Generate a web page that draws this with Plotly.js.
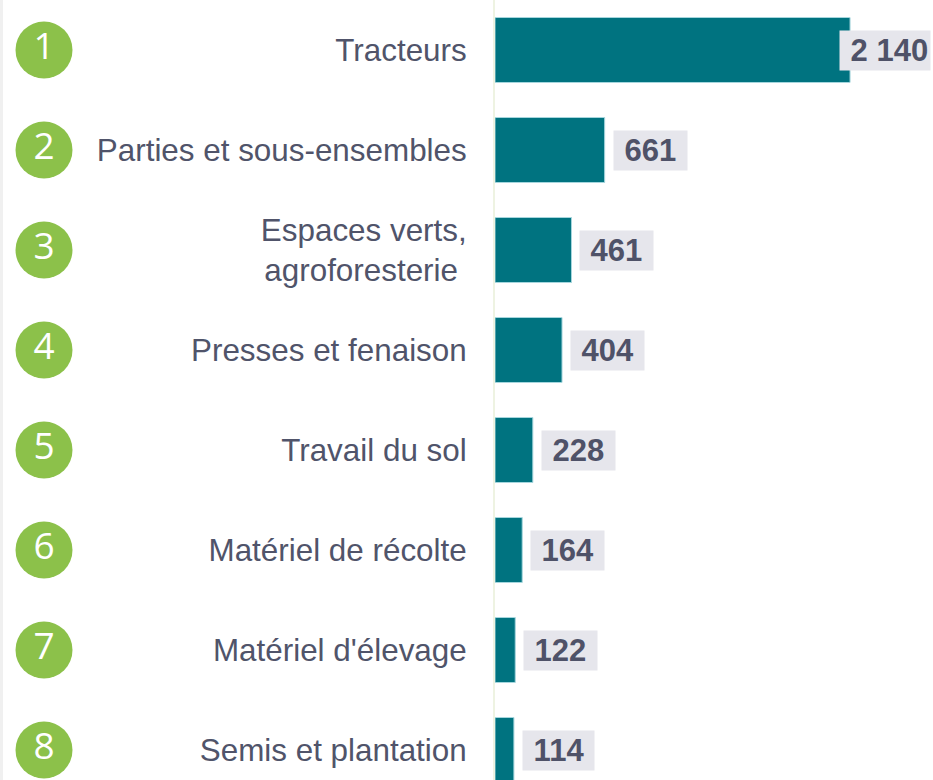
<!DOCTYPE html>
<html>
<head>
<meta charset="utf-8">
<script src="https://cdn.plot.ly/plotly-3.0.1.min.js"></script>
<style>
  html, body { margin: 0; padding: 0; background: #ffffff; }
  #chart { width: 933px; height: 780px; }
</style>
</head>
<body>
<div id="chart"></div>
<script>
const categories = [
    'Tracteurs',
    'Parties et sous-ensembles',
    'Espaces verts,<br>agroforesterie ',
    'Presses et fenaison',
    'Travail du sol',
    'Matériel de récolte',
    "Matériel d'élevage",
    'Semis et plantation'
];
const ranks = ['1', '2', '3', '4', '5', '6', '7', '8'];
const values = [2140, 661, 461, 404, 228, 164, 122, 114];

const fmt = (v) => String(v).replace(/\B(?=(\d{3})+(?!\d))/g, ' ');

const build_chart = () => {
    const chart = document.querySelector('#chart');

    const bars = {
        type: 'bar',
        orientation: 'h',
        x: values,
        y: categories,
        xaxis: 'x',
        yaxis: 'y',
        width: 0.65,
        marker: { color: '#007380', line: { color: '#a6d6dd', width: 1 } },
        hoverinfo: 'x+y'
    };

    const badges = {
        type: 'scatter',
        mode: 'markers+text',
        x: ranks.map(() => 0),
        y: categories,
        xaxis: 'x2',
        yaxis: 'y',
        text: ranks,
        textposition: 'middle center',
        textfont: { family: 'Open Sans', size: 37, weight: 400, color: '#ffffff' },
        marker: { size: 57, color: '#8cc14a', line: { width: 0 } },
        hoverinfo: 'skip',
        cliponaxis: false
    };

    // the longest bar leaves no room, so its label sits over the bar end
    const labels = values.map((v, i) => {
        const big = v > 2000;
        return {
            x: v,
            y: categories[i],
            xref: 'x',
            yref: 'y',
            text: '\u00a0' + fmt(v) + (big ? '' : '\u00a0'),
            showarrow: false,
            xanchor: 'left',
            yanchor: 'middle',
            xshift: big ? -11 : 8,
            bgcolor: '#e6e6ec',
            borderpad: 2,
            font: { family: 'Liberation Sans, Arial, sans-serif', size: 31, weight: 'bold', color: '#4f5268' }
        };
    });

    const layout = {
        width: 933,
        height: 780,
        margin: { l: 0, r: 0, t: 0, b: 0 },
        paper_bgcolor: '#ffffff',
        plot_bgcolor: '#ffffff',
        showlegend: false,
        font: { family: 'Liberation Sans, Arial, sans-serif', color: '#50546a' },
        xaxis: {
            domain: [495 / 933, 1],
            range: [0, 2640],
            showgrid: false,
            zeroline: false,
            showticklabels: false,
            showline: false,
            fixedrange: true
        },
        xaxis2: {
            domain: [0, 88 / 933],
            range: [-1, 1],
            anchor: 'y',
            showgrid: false,
            zeroline: false,
            showticklabels: false,
            fixedrange: true
        },
        yaxis: {
            anchor: 'x',
            type: 'category',
            range: [7.3, -0.5],
            showgrid: false,
            zeroline: false,
            showline: true,
            linecolor: '#eef3e2',
            linewidth: 2,
            ticks: '',
            ticklabelstandoff: 20,
            tickfont: { size: 31.4, color: '#50546a' },
            fixedrange: true
        },
        annotations: labels,
        shapes: [{
            type: 'rect', xref: 'paper', yref: 'paper',
            x0: 0, x1: 3 / 933, y0: 0, y1: 1,
            fillcolor: '#f0f0f0', line: { width: 0 }
        }]
    };

    Plotly.newPlot(chart, [bars, badges], layout, { displayModeBar: false });
};

document.addEventListener('DOMContentLoaded', build_chart);
</script>
</body>
</html>
